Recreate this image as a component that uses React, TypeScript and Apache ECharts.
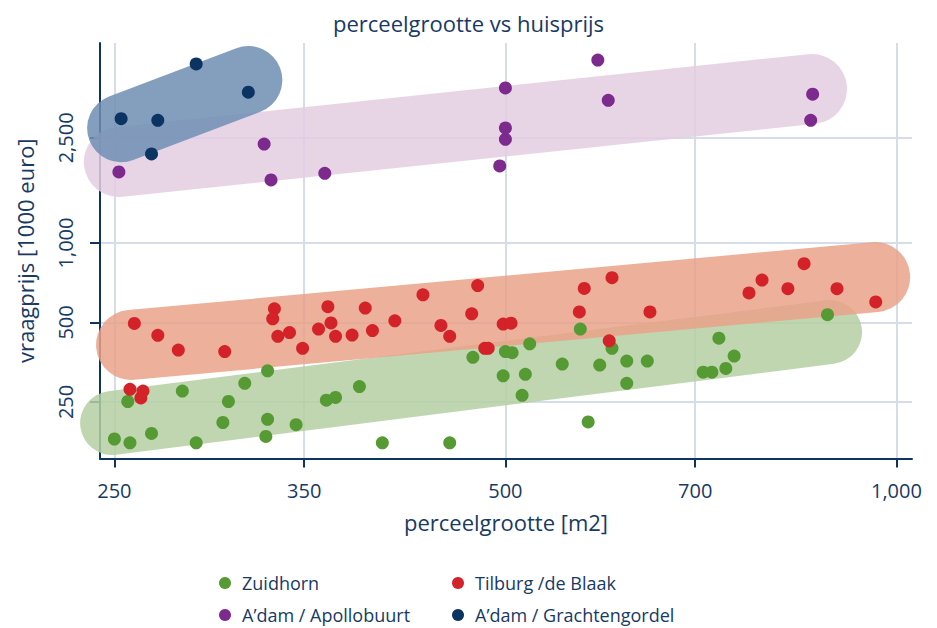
import React, { useEffect, useRef } from "react";
import * as echarts from "echarts";

// tick values
const xTicks = [250, 350, 500, 700, 1000];
const yTicks = [250, 500, 1000, 2500];

// [perceelgrootte m2, vraagprijs x1000 euro]
const zuidhorn: [number, number][] = [
  [256, 251], [250, 181], [257, 175], [267, 190], [282, 275], [289, 175], [303, 209],
  [306, 251], [315, 294], [328, 328], [328, 215], [327, 185], [345, 205], [364, 254],
  [370, 260], [386, 286], [402, 175], [453, 175], [472, 369], [500, 388], [506, 384],
  [522, 415], [498, 314], [518, 318], [515, 265], [553, 348], [571, 472], [579, 210],
  [591, 345], [604, 399], [620, 357], [643, 357], [620, 294], [730, 436], [750, 373],
  [710, 324], [721, 324], [739, 335], [885, 535],
];

const tilburg: [number, number][] = [
  [259, 496], [270, 447], [280, 393], [304, 388], [332, 563], [331, 516], [334, 443],
  [341, 458], [349, 399], [365, 574], [367, 498], [359, 472], [370, 443], [381, 448],
  [257, 279], [263, 275], [262, 259], [390, 567], [395, 466], [411, 507], [432, 636],
  [446, 487], [453, 443], [471, 539], [476, 690], [482, 399], [485, 399], [498, 493],
  [505, 497], [570, 548], [575, 673], [604, 739], [646, 548], [601, 426], [770, 647],
  [788, 724], [825, 671], [849, 835], [900, 671], [964, 598],
];

const apollobuurt: [number, number][] = [
  [252, 1857], [326, 2370], [330, 1732], [363, 1836], [589, 4930], [500, 3863],
  [600, 3470], [862, 3658], [859, 2915], [500, 2725], [500, 2470], [495, 1957],
];

const grachtengordel: [number, number][] = [
  [253, 2955], [270, 2915], [267, 2173], [289, 4762], [317, 3722],
];

// band (trend capsule) end points
const bandZuidhorn: [number, number][] = [[249, 208], [889, 460]];
const bandTilburg: [number, number][] = [[257.5, 411], [963, 743]];
const bandApollo: [number, number][] = [[252, 2026], [861, 3829]];
const bandGracht: [number, number][] = [[253, 2718], [317, 4142]];

const names = ["Zuidhorn", "Tilburg /de Blaak", "A’dam / Apollobuurt", "A’dam / Grachtengordel"];

const FONT = "Open Sans";
const TEXT = "#183a64";
const NAVY = "#0e3560";
const GRID = "#d6dce8";

const fmt = (v: number) => Math.round(v).toLocaleString("en-US");

export default function App() {
  const ref = useRef<HTMLDivElement>(null);
  useEffect(() => {
    if (!ref.current) return;
    const chart = echarts.init(ref.current, undefined, { renderer: "svg" });
    const band = (name: string, data: [number, number][], color: string, width: number) => ({
      name,
      type: "line",
      data,
      symbol: "none",
      silent: true,
      clip: false,
      z: 1,
      lineStyle: { color, width, cap: "round" },
    });
    const pts = (name: string, data: [number, number][], color: string) => ({
      name,
      type: "scatter",
      data,
      symbol: "circle",
      symbolSize: 13,
      z: 3,
      itemStyle: { color, opacity: 1 },
    });
    const legendBase = {
      orient: "horizontal",
      icon: "circle",
      itemWidth: 24,
      itemHeight: 12,
      padding: 0,
      selectedMode: false,
      textStyle: { fontFamily: FONT, fontSize: 18, color: TEXT },
    };
    chart.setOption({
      animation: false,
      backgroundColor: "#ffffff",
      textStyle: { fontFamily: FONT },
      title: {
        text: "perceelgrootte vs huisprijs",
        left: "center",
        top: 7,
        textStyle: { fontFamily: FONT, fontSize: 22, fontWeight: "normal", color: TEXT },
      },
      grid: { left: 100, top: 43, width: 812, height: 415.5 },
      xAxis: {
        type: "log",
        min: 243.7,
        max: 1028,
        name: "perceelgrootte [m2]",
        nameLocation: "middle",
        nameGap: 52,
        nameTextStyle: { fontFamily: FONT, fontSize: 22, color: TEXT },
        axisLine: { onZero: false, lineStyle: { color: NAVY, width: 2 } },
        axisTick: { show: true, customValues: xTicks, length: 9, lineStyle: { color: NAVY, width: 2 } },
        axisLabel: { customValues: xTicks, margin: 22, fontFamily: FONT, fontSize: 20, color: TEXT, formatter: fmt },
        splitLine: { show: true, lineStyle: { color: GRID, width: 2 } },
        minorTick: { show: false },
        minorSplitLine: { show: false },
      },
      yAxis: {
        type: "log",
        min: 152.7,
        max: 5718,
        name: "vraagprijs [1000 euro]",
        nameLocation: "middle",
        nameGap: 64,
        nameRotate: 90,
        nameTextStyle: { fontFamily: FONT, fontSize: 22, color: TEXT },
        axisLine: { onZero: false, lineStyle: { color: NAVY, width: 2 } },
        axisTick: { show: true, customValues: yTicks, length: 10, lineStyle: { color: NAVY, width: 2 } },
        axisLabel: { customValues: yTicks, rotate: 90, margin: 25, fontFamily: FONT, fontSize: 20, color: TEXT, formatter: fmt },
        splitLine: { show: true, lineStyle: { color: GRID, width: 2 } },
        minorTick: { show: false },
        minorSplitLine: { show: false },
      },
      legend: [
        { ...legendBase, data: [names[0]], left: 219, top: 574 },
        { ...legendBase, data: [names[1]], left: 452, top: 574 },
        { ...legendBase, data: [names[2]], left: 219, top: 606 },
        { ...legendBase, data: [names[3]], left: 452, top: 606 },
      ],
      series: [
        band("band-zuidhorn", bandZuidhorn, "rgba(180,207,162,0.85)", 64),
        band("band-tilburg", bandTilburg, "rgba(233,162,137,0.85)", 70),
        band("band-apollo", bandApollo, "rgba(227,206,226,0.85)", 70),
        band("band-gracht", bandGracht, "rgba(110,142,179,0.85)", 68),
        pts(names[0], zuidhorn, "#559a33"),
        pts(names[1], tilburg, "#d42229"),
        pts(names[2], apollobuurt, "#7d2a8e"),
        pts(names[3], grachtengordel, "#0c3462"),
      ],
    });
    return () => chart.dispose();
  }, []);
  return (
    <div
      ref={ref}
      style={{ position: "fixed", left: 0, top: 0, width: 937, height: 628, background: "#fff" }}
    />
  );
}
